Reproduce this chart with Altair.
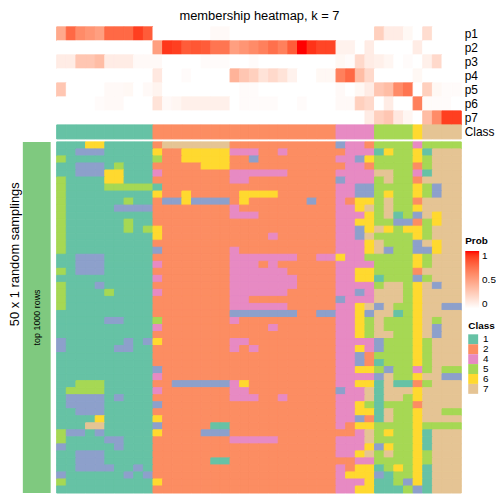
import altair as alt
import pandas as pd

FONT = "Liberation Sans"

# ---------------- data ----------------
prob_names = ["p1", "p2", "p3", "p4", "p5", "p6", "p7"]

p1 = [0.45, 0.75, 0.6, 0.55, 0.5, 0.75, 0.75, 0.75, 0.9, 0.8,
      0, 0, 0, 0, 0, 0, 0.03, 0.03, 0, 0,
      0, 0, 0, 0, 0, 0, 0, 0, 0, 0,
      0, 0, 0, 0.25, 0.1, 0.1, 0.04, 0, 0.18, 0, 0, 0]
p2 = [0, 0, 0, 0, 0, 0, 0, 0, 0, 0,
      0.5, 0.92, 0.9, 0.8, 0.82, 0.8, 0.7, 0.7, 0.5, 0.55,
      0.6, 0.65, 0.72, 0.65, 0.8, 1.0, 0.93, 0.88, 0.88, 0.07,
      0.07, 0, 0.1, 0, 0, 0, 0, 0.1, 0, 0, 0, 0]
p3 = [0.1, 0.1, 0.3, 0.3, 0.35, 0.1, 0.1, 0.1, 0.03, 0.03,
      0.03, 0, 0, 0, 0, 0.02, 0.02, 0.02, 0, 0,
      0.02, 0, 0, 0, 0, 0, 0, 0, 0, 0.04,
      0.02, 0.2, 0.1, 0.08, 0.05, 0, 0.02, 0, 0.08, 0.2, 0, 0]
p4 = [0, 0, 0, 0, 0, 0, 0, 0, 0, 0,
      0.12, 0, 0, 0.02, 0, 0, 0, 0, 0.4, 0.3,
      0.25, 0.15, 0.2, 0.15, 0.07, 0, 0, 0.04, 0.04, 0.65,
      0.75, 0.35, 0.2, 0, 0, 0, 0, 0.04, 0, 0, 0, 0]
p5 = [0.3, 0, 0, 0, 0, 0.03, 0.03, 0.04, 0, 0.03,
      0.06, 0, 0, 0, 0, 0, 0, 0, 0, 0.02,
      0.02, 0, 0, 0, 0, 0, 0, 0, 0, 0.03,
      0, 0.04, 0.1, 0.3, 0.35, 0.6, 0.7, 0, 0.25, 0.04, 0.02, 0.02]
p6 = [0, 0, 0, 0, 0.02, 0.03, 0.03, 0, 0, 0,
      0.15, 0.03, 0.05, 0.08, 0.08, 0.08, 0.08, 0.08, 0, 0.02,
      0.02, 0.02, 0.02, 0, 0, 0.02, 0, 0, 0, 0.03,
      0.03, 0.25, 0.2, 0, 0.1, 0, 0, 0.65, 0.02, 0.02, 0.02, 0]
p7 = [0, 0, 0, 0, 0, 0, 0, 0, 0, 0,
      0, 0, 0, 0, 0, 0, 0, 0, 0, 0,
      0, 0, 0, 0, 0, 0, 0, 0, 0, 0,
      0, 0, 0.1, 0.25, 0.3, 0.12, 0.05, 0, 0.35, 0.6, 0.9, 0.9]

class_row = "1111111111" "2222222222222222222" "4444" "5555" "6" "7777"

samplings = [
    "1116611111" "2777777722" "2222222223" "442555545555",
    "1133311111" "6226666644" "4224222222" "444165561777",
    "5111111111" "5226666622" "3222222224" "436555565777",
    "1133315111" "2222266622" "2222222222" "442555525777",
    "1133366111" "4222222244" "4444222224" "444775541777",
    "5111166111" "2222222244" "2222222223" "444575527777",
    "5111155555" "1222222222" "2222222224" "433555565377",
    "5111111111" "6226222226" "6662222224" "433565565377",
    "5111111511" "2336333326" "2222223224" "266575527777",
    "5111113333" "2222222242" "2222222224" "467575567777",
    "5111111111" "2222222244" "4222222224" "446571537677",
    "5111111511" "2222222222" "2222222224" "466553325677",
    "5111111515" "6222222222" "2222222224" "436765665777",
    "5111111111" "6222222222" "2242222224" "437555565777",
    "5111111111" "2222222222" "2222222224" "446755537677",
    "5111111111" "3222222242" "2222222224" "446735533677",
    "1133311111" "2222222244" "4444422446" "445555565777",
    "1133311111" "4222222244" "4242222224" "444555565777",
    "5133311111" "2222222244" "4444222224" "466555527777",
    "1111111111" "4222222244" "4444422224" "466155535777",
    "5111311111" "2222222244" "4444422224" "444577567377",
    "5111151111" "4222222244" "4444222224" "434777567777",
    "5111111111" "2222222244" "2222222223" "444777567777",
    "5111111111" "2222222244" "4444222224" "467375567733",
    "1111111111" "2222222233" "3333322334" "463771567777",
    "1111133111" "5222222242" "2222222224" "465755567577",
    "1111111111" "4222222222" "2242222224" "465755567377",
    "1111111111" "2222222222" "2222222224" "465775567377",
    "3111111313" "6222222244" "2222222224" "444355565777",
    "3111113311" "2222222242" "4222222224" "464355565777",
    "1111111111" "2222222222" "2222222224" "432555565777",
    "1111111111" "2222222222" "2222222224" "432155565777",
    "1111111111" "3222222222" "2222222224" "466535545755",
    "1111111111" "4222222222" "2222222224" "444375567733",
    "1155511111" "2233333346" "2222222224" "466171125777",
    "1555511111" "4222222244" "2222222223" "447177767777",
    "1333313111" "2222222244" "4224222224" "447177567777",
    "1333311111" "3222222222" "2222222224" "465155527777",
    "1133311111" "2222222222" "2222222224" "466175567755",
    "1111611111" "6222222222" "2222222224" "432175567777",
    "1117711111" "3222221122" "2222222224" "266555565555",
    "5331311111" "6222233322" "2222222222" "247565561777",
    "5111133111" "2222222244" "4442222224" "447555561777",
    "3111113111" "2222222222" "2222222224" "446365561777",
    "1133311111" "2222222222" "2222222224" "467575565777",
    "1133311111" "2222221122" "2222222222" "244555565777",
    "1133331131" "2222222222" "2222222224" "266156561777",
    "3111111313" "2222222222" "2222222224" "666315561777",
    "5111111111" "6222222222" "2222222224" "446115361777",
    "1111111111" "2222222222" "2222222224" "466111531777",
]

class_domain = ["1", "2", "3", "4", "5", "6", "7"]
class_colors = ["#66C2A5", "#FC8D62", "#8DA0CB", "#E78AC3", "#A6D854", "#FFD92F", "#E5C494"]
legend_classes = ["1", "2", "4", "5", "6", "7"]

# ---------------- tables ----------------
n_cols = len(class_row)
n_samp = len(samplings)
prob_vals = [p1, p2, p3, p4, p5, p6, p7]

prob_df = pd.DataFrame([
    {"col": c, "col2": c + 1, "row": name, "prob": vals[c], "prob_edge": vals[c]}
    for name, vals in zip(prob_names, prob_vals) for c in range(n_cols)
])
ann_df = pd.DataFrame([
    {"col": c, "col2": c + 1, "row": "Class", "cls": class_row[c], "cls_edge": class_row[c]}
    for c in range(n_cols)
])
main_df = pd.DataFrame([
    {"col": c, "col2": c + 1, "samp": j, "samp2": j + 1, "cls": s[c], "cls_edge": s[c]}
    for j, s in enumerate(samplings) for c in range(n_cols)
])
split_df = pd.DataFrame([{"x1": -3.51, "x2": -0.62, "y1": 0, "y2": n_samp}])
inner_lbl = pd.DataFrame([{"x": -2.0, "y": n_samp / 2, "t": "top 1000 rows"}])
outer_lbl = pd.DataFrame([{"x": -4.3, "y": 16, "t": "50 x 1 random samplings"}])

# ---------------- scales ----------------
W = 457
x_scale = alt.Scale(domain=[-5.05, n_cols], nice=False, zero=False)
prob_scale = alt.Scale(domain=[0, 1], range=["#FFFFFF", "#FF0000"], interpolate="lab")
class_scale = alt.Scale(domain=class_domain, range=class_colors)
row_order = prob_names + ["Class"]

y_ab = alt.Y("row:N", scale=alt.Scale(domain=row_order, paddingInner=0, paddingOuter=0),
             axis=alt.Axis(orient="right", title=None, ticks=False, domain=False,
                           labelFontSize=12, labelFont=FONT, labelPadding=3,
                           labelColor="black"))

# heat cells (edge stroke hides sub-pixel seams)
prob_layer = alt.Chart(prob_df).mark_rect(strokeWidth=1).encode(
    x=alt.X("col:Q", scale=x_scale, axis=None),
    x2="col2:Q",
    y=y_ab,
    color=alt.Color("prob:Q", scale=prob_scale, legend=None),
    stroke=alt.Stroke("prob_edge:Q", scale=prob_scale, legend=None),
)
# same values again, zero width: only carries the gradient legend
prob_legend_layer = alt.Chart(prob_df).mark_rect().encode(
    x=alt.X("col:Q", scale=x_scale, axis=None),
    x2="col:Q",
    y=y_ab,
    color=alt.Color("prob:Q", scale=prob_scale,
                    legend=alt.Legend(title="Prob", orient="none", legendX=461, legendY=211,
                                      type="gradient", direction="vertical",
                                      gradientLength=58, gradientThickness=14,
                                      values=[0, 0.5, 1], format="~g",
                                      gradientStrokeWidth=0, labelFontSize=10,
                                      titleFontSize=10, titleFontWeight="bold",
                                      labelFont=FONT, titleFont=FONT, titlePadding=5,
                                      labelOffset=3, labelColor="black", titleColor="black")),
)
ann_layer = alt.Chart(ann_df).mark_rect(strokeWidth=1).encode(
    x=alt.X("col:Q", scale=x_scale, axis=None),
    x2="col2:Q",
    y=y_ab,
    color=alt.Color("cls:N", scale=class_scale, legend=None),
    stroke=alt.Stroke("cls_edge:N", scale=class_scale, legend=None),
)
top = alt.layer(prob_layer, prob_legend_layer, ann_layer).resolve_scale(
    color="independent", stroke="independent"
).properties(
    width=W, height=113,
    title=alt.TitleParams("membership heatmap, k = 7", anchor="middle", frame="group",
                          dx=25, fontSize=13, fontWeight="normal", font=FONT,
                          color="black", offset=3),
)

y_main = alt.Scale(domain=[0, n_samp], reverse=True, nice=False, zero=False)
split_bar = alt.Chart(split_df).mark_rect(color="#7FC97F").encode(
    x=alt.X("x1:Q", scale=x_scale, axis=None), x2="x2:Q",
    y=alt.Y("y1:Q", scale=y_main, axis=None), y2="y2:Q",
)
main_layer = alt.Chart(main_df).mark_rect(strokeWidth=1).encode(
    x=alt.X("col:Q", scale=x_scale, axis=None), x2="col2:Q",
    y=alt.Y("samp:Q", scale=y_main, axis=None), y2="samp2:Q",
    color=alt.Color("cls:N", scale=class_scale,
                    legend=alt.Legend(title="Class", orient="none", legendX=464, legendY=181,
                                      values=legend_classes, symbolType="square",
                                      symbolSize=100, symbolStrokeWidth=0, rowPadding=0,
                                      labelFontSize=10, titleFontSize=10,
                                      titleFontWeight="bold", labelFont=FONT, titleFont=FONT,
                                      titlePadding=3, labelOffset=5, labelColor="black",
                                      titleColor="black")),
    stroke=alt.Stroke("cls_edge:N", scale=class_scale, legend=None),
)
inner_text = alt.Chart(inner_lbl).mark_text(angle=270, fontSize=9, font=FONT, color="black",
                                            baseline="middle", align="center").encode(
    x=alt.X("x:Q", scale=x_scale, axis=None), y=alt.Y("y:Q", scale=y_main, axis=None),
    text="t:N")
outer_text = alt.Chart(outer_lbl).mark_text(angle=270, fontSize=13, font=FONT, color="black",
                                            baseline="middle", align="center").encode(
    x=alt.X("x:Q", scale=x_scale, axis=None), y=alt.Y("y:Q", scale=y_main, axis=None),
    text="t:N")

main = alt.layer(split_bar, main_layer, inner_text, outer_text).properties(width=W, height=354)

chart = alt.vconcat(top, main, spacing=3, bounds="flush").resolve_scale(
    color="independent", stroke="independent"
).resolve_legend(color="independent", stroke="independent").properties(padding=0).configure(
    font=FONT
).configure_view(stroke=None)

chart.save("out.html", embed_options={"renderer": "svg", "actions": False})
